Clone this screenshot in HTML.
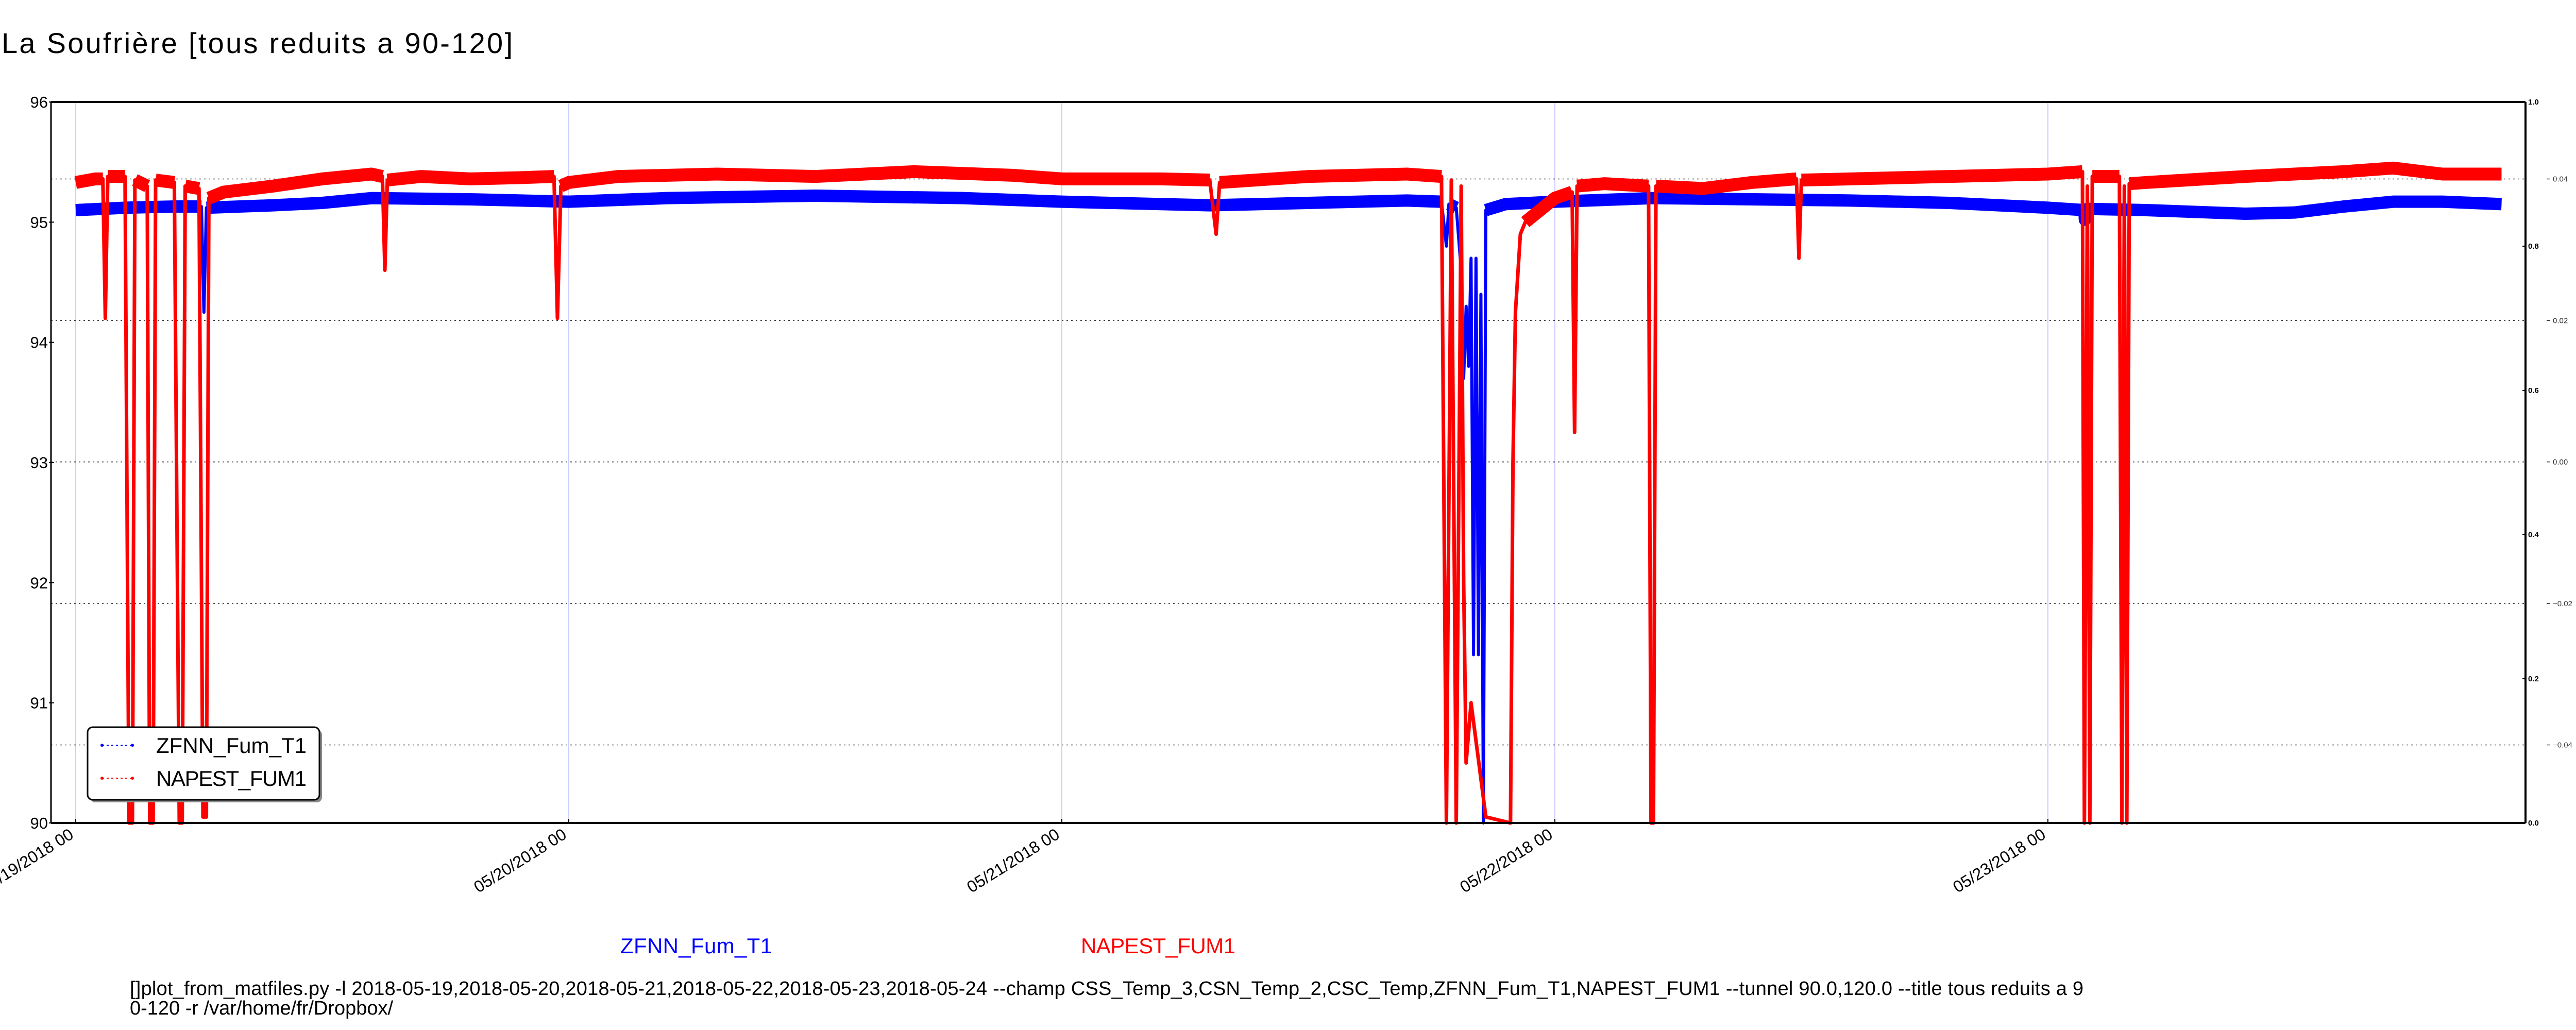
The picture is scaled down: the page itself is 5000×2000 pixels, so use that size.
<!DOCTYPE html>
<html><head><meta charset="utf-8"><style>
html,body{margin:0;padding:0;background:#fff;}
svg{display:block;}
text{font-family:"Liberation Sans",sans-serif;}
</style></head><body>
<svg id="chart" width="5000" height="2000" viewBox="0 0 5000 2000" xmlns="http://www.w3.org/2000/svg">
<rect width="5000" height="2000" fill="#fff"/>
<text x="3" y="103" font-size="56" textLength="992">La Soufrière [tous reduits a 90-120]</text>
<g id="grid"></g>
<g id="series"></g>
<g id="axes"></g>
<g id="legend">
  <rect x="175" y="1417" width="450" height="141" rx="10" fill="#888"/>
  <rect x="170" y="1412" width="450" height="141" rx="10" fill="#fff" stroke="#000" stroke-width="3"/>
  <line x1="198" y1="1447" x2="257" y2="1447" stroke="#00f" stroke-width="2" stroke-dasharray="4,5"/>
  <circle cx="198" cy="1447" r="3" fill="#00f"/><circle cx="257" cy="1447" r="3" fill="#00f"/>
  <text x="303" y="1462" font-size="42" textLength="292">ZFNN_Fum_T1</text>
  <line x1="198" y1="1511" x2="257" y2="1511" stroke="#f00" stroke-width="2" stroke-dasharray="4,5"/>
  <circle cx="198" cy="1511" r="3" fill="#f00"/><circle cx="257" cy="1511" r="3" fill="#f00"/>
  <text x="303" y="1526" font-size="42" textLength="292">NAPEST_FUM1</text>
</g>
<text x="1204" y="1851" font-size="42" fill="#00f" textLength="295">ZFNN_Fum_T1</text>
<text x="2098" y="1851" font-size="42" fill="#f00" textLength="300">NAPEST_FUM1</text>
<text x="252" y="1932" font-size="38" textLength="3792">[]plot_from_matfiles.py -l 2018-05-19,2018-05-20,2018-05-21,2018-05-22,2018-05-23,2018-05-24 --champ CSS_Temp_3,CSN_Temp_2,CSC_Temp,ZFNN_Fum_T1,NAPEST_FUM1 --tunnel 90.0,120.0 --title tous reduits a 9</text>
<text x="252" y="1970" font-size="38">0-120 -r /var/home/fr/Dropbox/</text>
</svg>
<script>
const dayLabels = ["05/19/2018 00","05/20/2018 00","05/21/2018 00","05/22/2018 00","05/23/2018 00"];
const leftTicks = [90,91,92,93,94,95,96];
const rightTicks = ["0.0","0.2","0.4","0.6","0.8","1.0"];
const twinTicks = [-0.04,-0.02,0.00,0.02,0.04];
const twinLabels = ["\u22120.04","\u22120.02","0.00","0.02","0.04"];
const blueT = [0,0.1,0.2,0.255,0.26,0.265,0.4,0.5,0.6,0.8,1.0,1.2,1.5,1.8,2.0,2.3,2.5,2.7,2.77,2.78,2.785,2.8,2.81,2.815,2.82,2.825,2.83,2.835,2.84,2.845,2.85,2.855,2.86,2.9,3.0,3.2,3.4,3.6,3.8,4.0,4.074,4.075,4.08,4.2,4.4,4.5,4.6,4.7,4.8,4.92];
const blueV = [95.1,95.12,95.13,95.13,94.25,95.12,95.14,95.16,95.2,95.19,95.17,95.2,95.22,95.2,95.17,95.14,95.16,95.18,95.17,94.8,95.15,95.12,94.6,93.7,94.3,93.8,94.7,91.4,94.7,91.4,94.4,90.0,95.1,95.15,95.17,95.2,95.19,95.18,95.16,95.12,95.1,95.02,95.11,95.1,95.07,95.08,95.13,95.17,95.17,95.15];
const redT = [0,0.04,0.055,0.06,0.065,0.1,0.108,0.115,0.12,0.145,0.15,0.157,0.162,0.2,0.21,0.216,0.222,0.25,0.258,0.265,0.27,0.3,0.4,0.5,0.6,0.622,0.627,0.632,0.7,0.8,0.9,0.97,0.977,0.984,1.0,1.1,1.3,1.5,1.7,1.9,2.0,2.2,2.3,2.313,2.32,2.5,2.7,2.77,2.78,2.79,2.80,2.81,2.815,2.82,2.83,2.86,2.91,2.915,2.92,2.93,2.94,2.97,3.0,3.035,3.04,3.045,3.1,3.19,3.195,3.2,3.205,3.3,3.4,3.49,3.495,3.5,3.6,3.8,4.0,4.07,4.074,4.08,4.085,4.09,4.145,4.15,4.155,4.16,4.165,4.2,4.4,4.6,4.7,4.8,4.92];
const redV = [95.33,95.36,95.36,94.2,95.38,95.38,90,90,95.35,95.3,90,90,95.35,95.33,90,90,95.3,95.28,90.05,90.05,95.2,95.25,95.3,95.36,95.4,95.38,94.6,95.35,95.38,95.36,95.37,95.38,94.2,95.3,95.33,95.38,95.4,95.38,95.42,95.39,95.36,95.36,95.35,94.9,95.33,95.38,95.4,95.38,90.0,95.35,90.0,95.3,92.0,90.5,91.0,90.05,90.0,93.0,94.25,94.9,95.0,95.1,95.2,95.25,93.25,95.3,95.32,95.3,90,90,95.3,95.28,95.33,95.36,94.7,95.35,95.36,95.38,95.4,95.42,90,95.3,90,95.38,95.38,90,95.3,90,95.32,95.33,95.38,95.42,95.45,95.4,95.4];

const NS="http://www.w3.org/2000/svg";
const L=99,R=4902,T=198,B=1598;
const xs=t=>147+t*957;
const ys=v=>B-(v-90)*(B-T)/6;
const yr=f=>B-f*(B-T);
const yt=v=>897-v*13737.5;
function mk(tag,attrs,parent){const e=document.createElementNS(NS,tag);for(const k in attrs)e.setAttribute(k,attrs[k]);parent.appendChild(e);return e;}
const grid=document.getElementById('grid'),ser=document.getElementById('series'),ax=document.getElementById('axes');

dayLabels.forEach((d,i)=>{
  const x=xs(i);
  const g=mk('line',{x1:x,y1:T,x2:x,y2:B,stroke:'#ccccff','stroke-width':2},grid);
  
  
  const t=mk('text',{x:0,y:0,'font-size':32,'text-anchor':'end',transform:`translate(${x-2},${B+28}) rotate(-32)`},ax);
  t.textContent=d;
  
  
  mk('line',{x1:x,y1:B,x2:x,y2:B-8,stroke:'#000','stroke-width':2},ax);
});
twinTicks.forEach((v,i)=>{
  const y=yt(v);
  const g=mk('line',{x1:L,y1:y,x2:R,y2:y,stroke:'#333','stroke-width':1.5,'stroke-dasharray':'3,6'},grid);
  
  
  mk('line',{x1:4943,y1:y,x2:4950,y2:y,stroke:'#333','stroke-width':1.5},ax);
  const t=mk('text',{x:4955,y:y+5,'font-size':15,fill:'#333'},ax);
  t.textContent=twinLabels[i];
  
  
});

function draw(T_,V_,color,thin,thick,name){
  const pts=T_.map((t,i)=>xs(t)+','+ys(V_[i])).join(' ');
  const p=mk('polyline',{points:pts,fill:'none',stroke:color,'stroke-width':thin,'stroke-linejoin':'round'},ser);
  
  
  let seg=[];
  const flush=()=>{if(seg.length>1){const b=mk('polyline',{points:seg.join(' '),fill:'none',stroke:color,'stroke-width':thick,'stroke-linejoin':'round'},ser);
    
    }seg=[];};
  T_.forEach((t,i)=>{if(V_[i]>94.97)seg.push(xs(t)+','+ys(V_[i]));else flush();});
  flush();
}
draw(blueT,blueV,'#0000ff',6,24,'zfnn-fum-t1');
draw(redT,redV,'#ff0000',7,25,'napest-fum1');

mk('line',{x1:L,y1:T,x2:R,y2:T,stroke:'#000','stroke-width':4},ax);
mk('line',{x1:L,y1:B,x2:R,y2:B,stroke:'#000','stroke-width':4},ax);
mk('line',{x1:L,y1:T,x2:L,y2:B,stroke:'#000','stroke-width':3},ax);
mk('line',{x1:R,y1:T,x2:R,y2:B,stroke:'#000','stroke-width':4},ax);
leftTicks.forEach(v=>{
  const y=ys(v);
  mk('line',{x1:L-4,y1:y,x2:L+6,y2:y,stroke:'#000','stroke-width':2},ax);
  const t=mk('text',{x:93,y:y+11,'font-size':31,'text-anchor':'end'},ax);
  t.textContent=v;
  
  
});
rightTicks.forEach(s=>{
  const y=yr(parseFloat(s));
  mk('line',{x1:R-6,y1:y,x2:R,y2:y,stroke:'#000','stroke-width':2},ax);
  const t=mk('text',{x:4907,y:y+5,'font-size':15,'font-weight':'bold'},ax);
  t.textContent=s;
  
  
});
</script>
</body></html>
